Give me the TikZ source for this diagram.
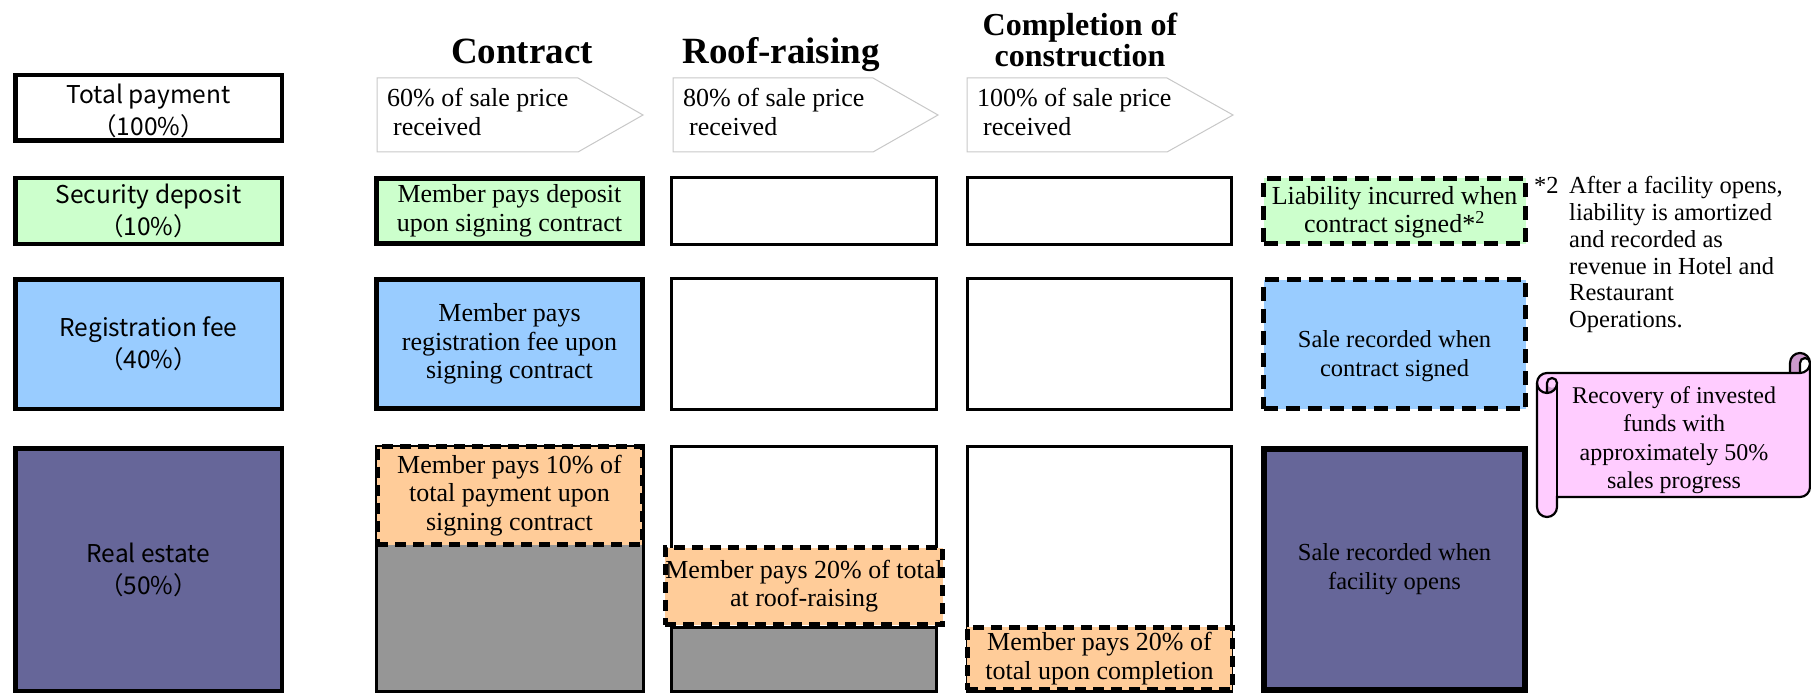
\documentclass[tikz,border=0pt]{standalone}
\usepackage{fontspec}
\setmainfont{Liberation Serif}
\newfontfamily\jpfont{Noto Sans CJK JP}
\definecolor{cgreen}{HTML}{CCFFCC}
\definecolor{cblue}{HTML}{99CCFF}
\definecolor{cpurple}{HTML}{666699}
\definecolor{corange}{HTML}{FFCC99}
\definecolor{cgray}{HTML}{969696}
\definecolor{cpink}{HTML}{FFCCFF}
\definecolor{ccurl}{HTML}{CC99CC}
\definecolor{carrow}{HTML}{C8C8C8}
\begin{document}
\begin{tikzpicture}[x=1pt,y=1pt,
  sz/.style 2 args={minimum width=#1pt, minimum height=#2pt},
  txt/.style={inner sep=0pt, align=center, font=\fontsize{26}{28.5}\selectfont},
  lab/.style={inner sep=0pt, align=center, draw, line width=4.5pt, font=\jpfont\fontsize{24.5}{32}\selectfont},
  solidbox/.style={txt, draw, line width=5pt},
  plainbox/.style={draw, line width=3pt, fill=white, inner sep=0pt},
  dbox/.style={txt, draw, line width=5pt, dash pattern=on 11pt off 7pt},
  rdbox/.style={txt, draw, line width=5.5pt, dash pattern=on 14pt off 8pt},
  hdr/.style={inner sep=0pt, font=\bfseries\fontsize{37}{40}\selectfont},
  hdrs/.style={inner sep=0pt, align=center, font=\bfseries\fontsize{32}{31}\selectfont},
  arrowshape/.style={draw=carrow, line width=1pt, fill=white},
  arrowtxt/.style={inner sep=0pt, align=left, anchor=west, font=\fontsize{26}{28.5}\selectfont},
  fn/.style={inner sep=0pt, font=\fontsize{24.5}{26.7}\selectfont},
  smalltxt/.style={font=\fontsize{24.5}{29}\selectfont},
  scrollline/.style={line width=2.2pt}
]
\useasboundingbox (0,0) rectangle (1811,-695);

% headers
\node[hdr, anchor=base] (h1) at (522,-64) {Contract};
\node[hdr, anchor=base] (h2) at (781,-64) {Roof-raising};
\node[hdrs, anchor=south] (h3) at (1080,-67) {Completion of\\construction};

% arrows
\draw[arrowshape] (377,-78) -- (578,-78) -- (643,-115) -- (578,-152) -- (377,-152) -- cycle;
\draw[arrowshape] (673,-78) -- (873,-78) -- (938,-115) -- (873,-152) -- (673,-152) -- cycle;
\draw[arrowshape] (967,-78) -- (1167,-78) -- (1233,-115) -- (1167,-152) -- (967,-152) -- cycle;
\node[arrowtxt] (a1) at (387,-112) {60\% of sale price\\\hspace*{6pt}received};
\node[arrowtxt] (a2) at (683,-112) {80\% of sale price\\\hspace*{6pt}received};
\node[arrowtxt] (a3) at (977,-112) {100\% of sale price\\\hspace*{6pt}received};

% left column
\node[lab, sz={266.5}{65.5}, fill=white] (tot) at (148.5,-108) {\rule{0pt}{26pt}Total payment\\（100\%）};
\node[lab, sz={266.5}{65.5}, fill=cgreen] (sec) at (148.5,-211) {Security deposit\\（10\%）};
\node[lab, sz={266.5}{129.5}, fill=cblue] (reg) at (148.5,-344) {Registration fee\\（40\%）};
\node[lab, sz={266.5}{242.5}, fill=cpurple] (re) at (148.5,-569.5) {Real estate\\（50\%）};

% contract column
\node[solidbox, sz={266}{65}, fill=cgreen] (csec) at (509.5,-211) {Member pays deposit\\upon signing contract};
\node[solidbox, sz={266}{129}, fill=cblue] (creg) at (509.5,-344) {Member pays\\registration fee upon\\signing contract};
\draw[line width=3pt, fill=cgray] (376,-446) rectangle (643,-691);
\node[dbox, sz={265}{98}, fill=corange] (cor) at (509.5,-495.5) {Member pays 10\% of\\total payment upon\\signing contract};

% roof-raising column
\node[plainbox, sz={265}{67}] (rsec) at (804,-211) {};
\node[plainbox, sz={265}{131}] (rreg) at (804,-344) {};
\draw[line width=3pt, fill=white] (671.5,-446.5) rectangle (936.5,-691);
\draw[line width=3pt, fill=cgray] (671.5,-627) rectangle (936.5,-691);
\node[dbox, sz={265}{77}, fill=corange] (ror) at (804,-586) {Member pays 20\% of total\\at roof-raising};

% completion column
\node[plainbox, sz={264}{67}] (psec) at (1099.5,-211) {};
\node[plainbox, sz={264}{131}] (preg) at (1099.5,-344) {};
\draw[line width=3pt, fill=white] (967.5,-446.5) rectangle (1231.5,-691);
\node[dbox, sz={265}{62.5}, fill=corange] (por) at (1099.5,-658.5) {Member pays 20\% of\\total upon completion};

% right column
\node[rdbox, sz={262}{65}, fill=cgreen] (ssec) at (1394.5,-211) {\rule{0pt}{21pt}Liability incurred when\\contract signed*\textsuperscript{2}};
\node[rdbox, smalltxt, sz={262}{129}, fill=cblue] (sreg) at (1394.5,-344) {\rule{0pt}{42pt}Sale recorded when\\contract signed};
\node[txt, smalltxt, draw, line width=6pt, sz={261}{241}, fill=cpurple] (sre) at (1394.5,-569.5) {Sale recorded when\\facility opens};

% footnote
\node[fn, anchor=base west] (fnmark) at (1534,-193.5) {*2};
\node[fn, anchor=north west, align=left] (fntext) at (1569,-176.5) {After a facility opens,\\liability is amortized\\and recorded as\\revenue in Hotel and\\Restaurant\\Operations.};

% scroll
\fill[cpink] (1810,-363) arc[start angle=0,end angle=-90,radius=10] -- (1547,-373)
  arc[start angle=90,end angle=180,radius=10] -- (1537,-507)
  arc[start angle=180,end angle=360,radius=10] -- (1557,-497) -- (1800,-497)
  arc[start angle=270,end angle=360,radius=10] -- cycle;
\fill[ccurl] (1547,-393) arc[start angle=-90,end angle=0,radius=10] arc[start angle=0,end angle=-180,radius=5] -- cycle;
\fill[ccurl] (1790,-373) -- (1790,-363) arc[start angle=180,end angle=0,radius=10] arc[start angle=0,end angle=180,radius=5] -- (1800,-373) -- cycle;
\draw[scrollline] (1810,-363) arc[start angle=0,end angle=-90,radius=10] -- (1547,-373)
  arc[start angle=90,end angle=180,radius=10] -- (1537,-507)
  arc[start angle=180,end angle=360,radius=10] -- (1557,-497) -- (1800,-497)
  arc[start angle=270,end angle=360,radius=10] -- cycle;
\draw[scrollline] (1547,-393) -- (1547,-383) arc[start angle=180,end angle=0,radius=5] arc[start angle=0,end angle=-180,radius=10];
\draw[scrollline] (1557,-383) -- (1557,-497);
\draw[scrollline] (1790,-373) -- (1790,-363) arc[start angle=180,end angle=0,radius=10];
\draw[scrollline] (1810,-363) arc[start angle=0,end angle=180,radius=5] -- (1800,-373);
\node[inner sep=0pt, align=center, font=\fontsize{24}{28.5}\selectfont] (scrolltxt) at (1674,-440) {Recovery of invested\\funds with\\approximately 50\%\\sales progress};
\end{tikzpicture}
\end{document}
